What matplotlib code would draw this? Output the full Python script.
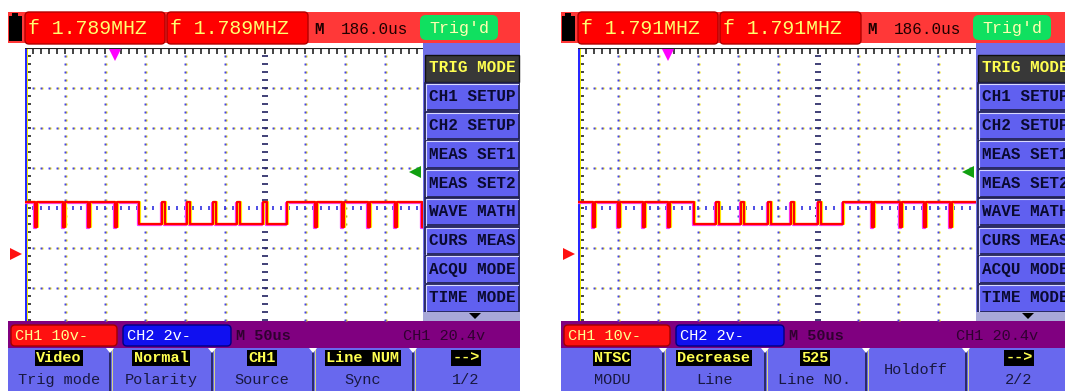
import numpy as np
import matplotlib.pyplot as plt
from matplotlib.patches import Rectangle, FancyBboxPatch, Polygon
from matplotlib.transforms import ScaledTranslation

# readings shown on the two screens
freq_text = ['1.789MHZ', '1.791MHZ']
trig_pos_text = '186.0us'
menu_items = ['TRIG MODE', 'CH1 SETUP', 'CH2 SETUP', 'MEAS SET1', 'MEAS SET2',
              'WAVE MATH', 'CURS MEAS', 'ACQU MODE', 'TIME MODE']
btn_top = [['Video', 'Normal', 'CH1', 'Line NUM', '-->'],
           ['NTSC', 'Decrease', '525', '', '-->']]
btn_bottom = [['Trig mode', 'Polarity', 'Source', 'Sync', '1/2'],
              ['MODU', 'Line', 'Line NO.', 'Holdoff', '2/2']]

ch1_scale = 10.0    # V/div
time_scale = 50.0   # us/div
trig_level = 20.4   # V
ch1_offset = -1.14  # div (ground marker)

# CH1 trace, volts and us from left screen edge
v_high = 13.0
v_low = 7.3
v_dip = 6.6
dip_width = 2.5
pulse_width = 4.0
left_dips = [12, 47, 79, 112, 362, 396, 429, 462, 496]
left_low = [142, 327]
left_pulses = [171, 202, 235, 265, 298]
right_dips = [19, 50, 81, 112, 368, 402, 433, 465]
right_low = [145, 331]
right_pulses = [172, 204, 237, 266, 300]

FONT = 'Liberation Mono'
W, H = 1065, 391


def build_trace(dips, low, pulses, t_end=500.0):
    events = []
    for d in dips:
        events += [(d, v_dip), (d + dip_width, v_high)]
    events += [(low[0], v_low), (low[1], v_high)]
    for p in pulses:
        events += [(p, v_high), (p + pulse_width, v_low)]
    events.sort()
    t = [0.0] + [e[0] for e in events] + [t_end]
    v = [v_high] + [e[1] for e in events]
    v.append(v[-1])
    return np.array(t), np.array(v)


fig = plt.figure(figsize=(W / 100, H / 100), dpi=100)
bg = fig.add_axes([0, 0, 1, 1])
bg.set_xlim(0, W)
bg.set_ylim(H, 0)
bg.axis('off')


def rect(x, y, w, h, fc, ec='none', lw=0, z=1):
    bg.add_patch(Rectangle((x, y), w, h, fc=fc, ec=ec, lw=lw, zorder=z))


def rbox(x, y, w, h, fc, ec='none', lw=0, r=4, z=2):
    bg.add_patch(FancyBboxPatch((x, y), w, h, boxstyle=f'round,pad=0,rounding_size={r}',
                                fc=fc, ec=ec, lw=lw, zorder=z))


def txt(x, y, s, size, color, ha='left', weight='bold', box=None, z=5):
    bg.text(x, y, s, fontsize=size, color=color, ha=ha, va='center', family=FONT,
            weight=weight, zorder=z, bbox=box)


def draw_panel(k, ox, dips, low, pulses):
    # top status bar
    rect(ox + 8, 12, 512, 31, '#ff3838')
    rect(ox + 9, 16, 13, 25, 'black', z=3)
    rect(ox + 12, 13, 6, 4, 'black', z=3)
    rbox(ox + 25, 12, 140, 32, '#ff0000', '#b00000', 1)
    rbox(ox + 167, 12, 141, 32, '#ff0000', '#b00000', 1)
    txt(ox + 28, 29, 'f ' + freq_text[k], 14.3, '#ffff70', weight='normal')
    txt(ox + 170, 29, 'f ' + freq_text[k], 14.3, '#ffff70', weight='normal')
    txt(ox + 314, 29, 'M', 11.5, '#200000')
    txt(ox + 341, 29, trig_pos_text, 11.5, '#200000', weight='normal')
    rbox(ox + 420, 15, 78, 25, '#10e060', r=6)
    txt(ox + 459, 28, "Trig'd", 12, '#ffffb0', ha='center', weight='normal')

    # side menu
    rect(ox + 423, 43, 97, 278, '#7070e8')
    for i, item in enumerate(menu_items):
        cy = 68 + 28.75 * i
        if i == 0:
            rect(ox + 425, cy - 13.5, 94, 27, '#383838', '#101010', 1, z=2)
            txt(ox + 472, cy, item, 11.5, '#ffff50', ha='center')
        else:
            rect(ox + 425, cy - 13.5, 94, 27, '#6060f0', '#20204a', 1.2, z=2)
            bg.plot([ox + 425.5, ox + 425.5, ox + 518], [cy + 13, cy - 13, cy - 13],
                    color='#d8d8ff', lw=0.8, zorder=3)
            txt(ox + 472, cy, item, 11.5, '#0a0a30', ha='center')
    rect(ox + 423, 312, 97, 9, '#a8a8d8', z=2)
    bg.add_patch(Polygon([[ox + 469, 313], [ox + 481, 313], [ox + 475, 319]],
                         closed=True, fc='black', zorder=3))

    # bottom status bar
    rect(ox + 8, 321, 512, 27, '#800080')
    rbox(ox + 11, 325, 106, 21, '#ff1010', '#a00000', 1)
    rbox(ox + 123, 325, 108, 21, '#1010f0', '#000080', 1)
    txt(ox + 15, 336, 'CH1 10v-', 11, '#ffff90', weight='normal')
    txt(ox + 127, 336, 'CH2 2v-', 11, 'white', weight='normal')
    txt(ox + 236, 336, 'M 50us', 11, '#300030')
    txt(ox + 403, 336, 'CH1 20.4v', 11, '#300030', weight='normal')

    # soft keys
    rect(ox + 8, 348, 512, 43, '#6868ee')
    for sx in [110, 212, 313, 413]:
        bg.plot([ox + sx, ox + sx], [349, 391], color='#202050', lw=1.2, zorder=3)
        bg.plot([ox + sx + 1.5, ox + sx + 1.5], [349, 391], color='#e8e870', lw=0.6, zorder=3)
        bg.add_patch(Polygon([[ox + sx - 4, 348], [ox + sx + 4, 348], [ox + sx, 353]],
                             closed=True, fc='white', zorder=3))
    centers = [59, 161, 262, 363, 466]
    for cx, top, bot in zip(centers, btn_top[k], btn_bottom[k]):
        if top:
            txt(ox + cx, 358, top, 11, '#ffff50', ha='center',
                box=dict(boxstyle='square,pad=0.08', fc='black', ec='none'))
            txt(ox + cx, 380, bot, 11, '#181840', ha='center', weight='normal')
        else:
            txt(ox + cx, 370, bot, 11, '#181840', ha='center', weight='normal')

    # screen
    ax = fig.add_axes([(ox + 25) / W, (H - 321) / H, 398 / W, 273 / H])
    ax.set_facecolor('none')
    ax.set_xlim(-6, 3.95)
    ax.set_ylim(-2.825, 4)
    ax.axis('off')
    px = 1 / 100
    sh = lambda dx, dy: ax.transData + ScaledTranslation(dx * px, dy * px, fig.dpi_scale_trans)

    ys = np.arange(-2.8, 3.9, 0.2)
    xs = np.arange(-5.8, 3.95, 0.2)
    for gx in [-5, -4, -3, -2, -1, 1, 2, 3]:
        ax.plot(np.full(ys.size, gx), ys, 's', ms=1.4, color='#f0e000', mew=0, transform=sh(1, 0))
        ax.plot(np.full(ys.size, gx), ys, 's', ms=1.4, color='#4040f0', mew=0)
    for gy in [-2, -1, 1, 2, 3]:
        ax.plot(xs, np.full(xs.size, gy), 's', ms=1.4, color='#f0e000', mew=0, transform=sh(1, 0))
        ax.plot(xs, np.full(xs.size, gy), 's', ms=1.4, color='#4040f0', mew=0)
    ax.plot(np.zeros(ys.size), ys, '_', ms=4, mew=1.2, color='#202060')
    ax.plot(xs, np.zeros(xs.size), '|', ms=3.5, mew=1.2, color='#3030e0')
    ax.hlines(np.arange(-2.8, 4, 0.2), -6, -5.86, color='#101010', lw=1.1, clip_on=False)
    ax.vlines(np.arange(-5.8, 3.95, 0.2), 3.86, 4, color='#101010', lw=1.1, clip_on=False)
    ax.axvline(-5.98, color='#2828ff', lw=1.6)
    ax.axvline(-5.94, color='#f0f000', lw=0.7)
    ax.axhline(3.99, color='#202020', lw=0.8)

    t, v = build_trace(dips, low, pulses)
    x = t / time_scale - 6
    y = v / ch1_scale + ch1_offset
    ax.plot(x, y, drawstyle='steps-post', color='#ff30ff', lw=1.6, transform=sh(-1, -1))
    ax.plot(x, y, drawstyle='steps-post', color='#ffff00', lw=1.6, transform=sh(1, 0))
    ax.plot(x, y, drawstyle='steps-post', color='#ff0000', lw=1.6)

    # markers
    ax.plot(-6.22, ch1_offset, '>', ms=9, color='#ff1010', mew=0, clip_on=False)
    ax.plot(3.75, trig_level / ch1_scale + ch1_offset, '<', ms=9, color='#10a010', mew=0, clip_on=False)
    ax.plot(-3.75, 3.82, 'v', ms=8, color='#ff00ff', mew=0, clip_on=False)


draw_panel(0, 0, left_dips, left_low, left_pulses)
draw_panel(1, 553, right_dips, right_low, right_pulses)

fig.savefig('out.png', dpi=100)
